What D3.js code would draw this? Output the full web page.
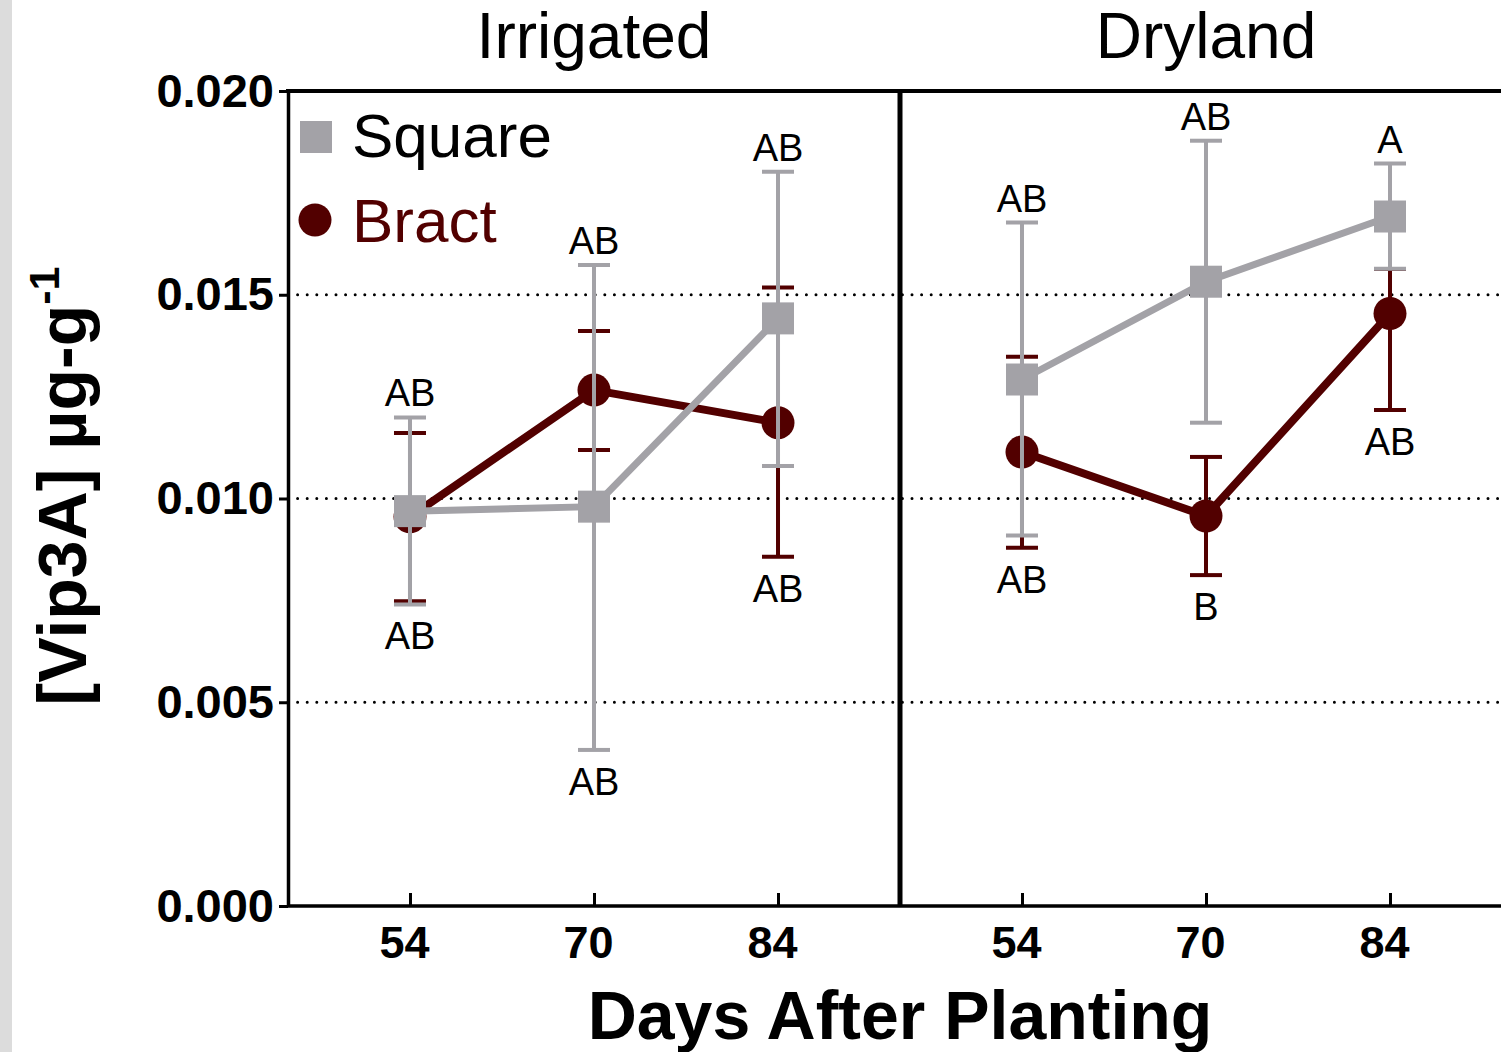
<!DOCTYPE html>
<html>
<head>
<meta charset="utf-8">
<script src="https://cdn.jsdelivr.net/npm/d3@7"></script>
<style>
  html, body { margin: 0; padding: 0; background: #fff; }
  svg { display: block; }
  text { font-family: "Liberation Sans", Arial, sans-serif; }
</style>
</head>
<body>
<svg id="chart" width="1501" height="1052"></svg>
<script>
// Sampling days (x categories) and panels
const days = ["54", "70", "84"];
const panels = ["Irrigated", "Dryland"];
const yTicks = [0.000, 0.005, 0.010, 0.015, 0.020];
const gridValues = [0.005, 0.010, 0.015];

// Irrigated: Vip3A concentration, mean with lower / upper error limits
const irrSquareMean = [0.00969, 0.00980, 0.01442];
const irrSquareLo   = [0.00740, 0.00383, 0.01080];
const irrSquareHi   = [0.01199, 0.01573, 0.01802];
const irrBractMean  = [0.00955, 0.01266, 0.01186];
const irrBractLo    = [0.00748, 0.01119, 0.00857];
const irrBractHi    = [0.01161, 0.01411, 0.01518];

// Dryland
const drySquareMean = [0.01292, 0.01532, 0.01692];
const drySquareLo   = [0.00909, 0.01186, 0.01564];
const drySquareHi   = [0.01677, 0.01878, 0.01822];
const dryBractMean  = [0.01114, 0.00957, 0.01454];
const dryBractLo    = [0.00879, 0.00812, 0.01217];
const dryBractHi    = [0.01348, 0.01102, 0.01563];

// Mean separation letters, above and below each day
const irrLettersTop    = ["AB", "AB", "AB"];
const irrLettersBottom = ["AB", "AB", "AB"];
const dryLettersTop    = ["AB", "AB", "A"];
const dryLettersBottom = ["AB", "B", "AB"];

const GREY = "#a3a2a7";
const RED = "#520000";

const svg = d3.select("#chart");

// light strip along the left edge
svg.append("rect").attr("x", 0).attr("y", 0).attr("width", 12).attr("height", 1052).attr("fill", "#dcdcdc");

const plotTop = 91, plotBottom = 906, plotLeft = 288, divider = 900, plotRight = 1512;

const y = d3.scaleLinear().domain([0, 0.02]).range([plotBottom, plotTop]);

const panelData = [
  { name: panels[0], x0: plotLeft, x1: divider,
    series: [
      { key: "Bract", color: RED, mean: irrBractMean, lo: irrBractLo, hi: irrBractHi },
      { key: "Square", color: GREY, mean: irrSquareMean, lo: irrSquareLo, hi: irrSquareHi }
    ],
    top: irrLettersTop, bottom: irrLettersBottom },
  { name: panels[1], x0: divider, x1: plotRight,
    series: [
      { key: "Bract", color: RED, mean: dryBractMean, lo: dryBractLo, hi: dryBractHi },
      { key: "Square", color: GREY, mean: drySquareMean, lo: drySquareLo, hi: drySquareHi }
    ],
    top: dryLettersTop, bottom: dryLettersBottom }
];

// dotted reference lines
svg.append("g").selectAll("line").data(gridValues).join("line")
  .attr("x1", plotLeft).attr("x2", 1501)
  .attr("y1", d => y(d)).attr("y2", d => y(d))
  .attr("stroke", "#000").attr("stroke-width", 3)
  .attr("stroke-linecap", "round")
  .attr("stroke-dasharray", "0 9.6");

panelData.forEach(p => {
  const x = d3.scalePoint().domain(days).range([p.x0, p.x1]).padding(0.663);

  // x axis with inward ticks
  const ax = svg.append("g").attr("transform", `translate(0,${plotBottom})`)
    .call(d3.axisBottom(x).tickSizeInner(-13).tickSizeOuter(0).tickPadding(18));
  ax.select(".domain").remove();
  ax.selectAll(".tick line").attr("stroke", "#000").attr("stroke-width", 3);
  ax.selectAll(".tick text").attr("font-size", 45).attr("font-weight", "bold")
    .attr("fill", "#000").attr("dx", -6).attr("dy", "0.75em")
    .style("font-family", "'Liberation Sans', Arial, sans-serif");

  // panel title
  svg.append("text").attr("x", (x(days[0]) + x(days[2])) / 2).attr("y", 58)
    .attr("text-anchor", "middle").attr("font-size", 64).text(p.name);

  p.series.forEach(s => {
    const g = svg.append("g");
    const pts = days.map((d, i) => ({ d, m: s.mean[i], lo: s.lo[i], hi: s.hi[i] }));
    // error bars
    g.selectAll("line.err").data(pts).join("line").attr("class", "err")
      .attr("x1", d => x(d.d)).attr("x2", d => x(d.d))
      .attr("y1", d => y(d.lo)).attr("y2", d => y(d.hi))
      .attr("stroke", s.color).attr("stroke-width", 4);
    ["lo", "hi"].forEach(k => {
      g.selectAll("line.cap" + k).data(pts).join("line").attr("class", "cap" + k)
        .attr("x1", d => x(d.d) - 16).attr("x2", d => x(d.d) + 16)
        .attr("y1", d => y(d[k])).attr("y2", d => y(d[k]))
        .attr("stroke", s.color).attr("stroke-width", 4);
    });
    // connecting line
    g.append("path").datum(pts)
      .attr("d", d3.line().x(d => x(d.d)).y(d => y(d.m)))
      .attr("fill", "none").attr("stroke", s.color)
      .attr("stroke-width", s.key === "Bract" ? 8 : 7);
    // markers
    if (s.key === "Bract") {
      g.selectAll("circle").data(pts).join("circle")
        .attr("cx", d => x(d.d)).attr("cy", d => y(d.m)).attr("r", 16.5)
        .attr("fill", s.color);
    } else {
      g.selectAll("rect").data(pts).join("rect")
        .attr("x", d => x(d.d) - 16).attr("y", d => y(d.m) - 16)
        .attr("width", 32).attr("height", 32).attr("fill", s.color);
    }
  });

  // letters above the highest and below the lowest error limit
  const hiMax = days.map((d, i) => Math.max(...p.series.map(s => s.hi[i])));
  const loMin = days.map((d, i) => Math.min(...p.series.map(s => s.lo[i])));
  svg.append("g").selectAll("text").data(days).join("text")
    .attr("x", d => x(d)).attr("y", (d, i) => y(hiMax[i]) - 11)
    .attr("text-anchor", "middle").attr("font-size", 38).text((d, i) => p.top[i]);
  svg.append("g").selectAll("text").data(days).join("text")
    .attr("x", d => x(d)).attr("y", (d, i) => y(loMin[i]) + 45)
    .attr("text-anchor", "middle").attr("font-size", 38).text((d, i) => p.bottom[i]);
});

// frame: top border, panel divider, bottom axis line
svg.append("line").attr("x1", plotLeft - 2).attr("x2", 1501).attr("y1", plotTop).attr("y2", plotTop)
  .attr("stroke", "#000").attr("stroke-width", 4);
svg.append("line").attr("x1", divider).attr("x2", divider).attr("y1", plotTop).attr("y2", plotBottom)
  .attr("stroke", "#000").attr("stroke-width", 5);
svg.append("line").attr("x1", plotLeft).attr("x2", 1501).attr("y1", plotBottom).attr("y2", plotBottom)
  .attr("stroke", "#000").attr("stroke-width", 3.5);

// y axis
const yAx = svg.append("g").attr("transform", `translate(${plotLeft},0)`)
  .call(d3.axisLeft(y).tickValues(yTicks).tickFormat(d3.format(".3f")).tickSizeInner(9).tickSizeOuter(0).tickPadding(5));
yAx.select(".domain").attr("stroke", "#000").attr("stroke-width", 3.5);
yAx.selectAll(".tick line").attr("stroke", "#000").attr("stroke-width", 3);
yAx.selectAll(".tick text").attr("font-size", 47).attr("font-weight", "bold").attr("fill", "#000")
  .style("font-family", "'Liberation Sans', Arial, sans-serif");

// legend
const legend = svg.append("g");
legend.append("rect").attr("x", 300).attr("y", 121).attr("width", 32).attr("height", 32).attr("fill", GREY);
legend.append("text").attr("x", 352).attr("y", 157).attr("font-size", 62).attr("fill", "#000").text("Square");
legend.append("circle").attr("cx", 315).attr("cy", 220).attr("r", 16.5).attr("fill", RED);
legend.append("text").attr("x", 352).attr("y", 242).attr("font-size", 62).attr("fill", RED).text("Bract");

// axis titles
svg.append("text").attr("x", 900).attr("y", 1039).attr("text-anchor", "middle")
  .attr("font-size", 68).attr("font-weight", "bold").text("Days After Planting");

const yt = svg.append("text").attr("transform", "translate(86,486) rotate(-90)")
  .attr("text-anchor", "middle").attr("font-size", 68).attr("font-weight", "bold");
yt.append("tspan").text("[Vip3A] µg-g");
yt.append("tspan").attr("font-size", 43).attr("dy", -27).text("-1");
</script>
</body>
</html>
